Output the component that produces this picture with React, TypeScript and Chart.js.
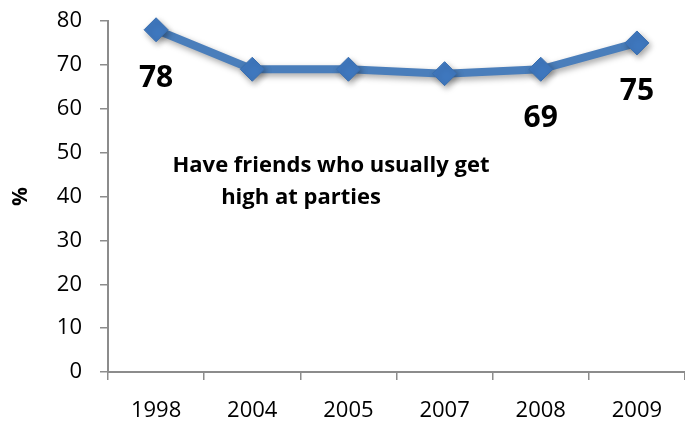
import React, { useEffect, useRef } from "react";
import { Chart, registerables } from "chart.js";

Chart.register(...registerables);

const categories = ["1998", "2004", "2005", "2007", "2008", "2009"];
const values = [78, 69, 69, 68, 69, 75];
const labeledIndices = [0, 4, 5];
const yTicks = [0, 10, 20, 30, 40, 50, 60, 70, 80];
const annotationLines = ["Have friends who usually get", "high at parties"];
const yTitle = "%";

const FONT = "'Open Sans', Lato, sans-serif";
const LINE_COLOR = "#4A7EBB";
const AXIS_COLOR = "#8C8C8C";

const shadowPlugin = {
  id: "shadowPlugin",
  beforeDatasetDraw(chart: any) {
    const ctx = chart.ctx;
    ctx.save();
    ctx.shadowColor = "rgba(0,0,0,0.35)";
    ctx.shadowBlur = 6;
    ctx.shadowOffsetX = 2;
    ctx.shadowOffsetY = 3;
  },
  afterDatasetDraw(chart: any) {
    chart.ctx.restore();
  },
};

const labelsPlugin = {
  id: "labelsPlugin",
  afterDatasetsDraw(chart: any) {
    const ctx = chart.ctx;
    const meta = chart.getDatasetMeta(0);
    ctx.save();
    ctx.fillStyle = "#000";
    ctx.font = `bold 30px ${FONT}`;
    ctx.textAlign = "center";
    ctx.textBaseline = "middle";
    labeledIndices.forEach((i) => {
      const pt = meta.data[i];
      ctx.fillText(String(values[i]), pt.x, pt.y + 49);
    });
    const area = chart.chartArea;
    const ys = chart.scales.y;
    ctx.font = `bold 22px ${FONT}`;
    ctx.textAlign = "center";
    ctx.fillText(annotationLines[0], area.left + 223, ys.getPixelForValue(46.9));
    ctx.fillText(annotationLines[1], area.left + 193, ys.getPixelForValue(39.8));
    ctx.restore();
  },
};

export default function App() {
  const canvasRef = useRef<HTMLCanvasElement | null>(null);

  useEffect(() => {
    document.body.style.margin = "0";
    const canvas = canvasRef.current!;
    const chart = new Chart(canvas, {
      type: "line",
      data: {
        labels: categories,
        datasets: [
          {
            data: values,
            borderColor: LINE_COLOR,
            borderWidth: 8,
            backgroundColor: "#3F78BF",
            pointBackgroundColor: "#3F78BF",
            pointBorderColor: "#3A6FB0",
            pointBorderWidth: 1,
            pointStyle: "rectRot",
            pointRadius: 12,
            pointHoverRadius: 12,
            tension: 0,
            fill: false,
            clip: false,
          },
        ],
      },
      options: {
        animation: false,
        responsive: false,
        maintainAspectRatio: false,
        layout: { autoPadding: false, padding: { top: 21, right: 0, left: 0, bottom: 0 } },
        plugins: {
          legend: { display: false },
          tooltip: { enabled: false },
          title: { display: false },
        },
        scales: {
          x: {
            type: "category",
            offset: true,
            grid: {
              display: true,
              offset: true,
              drawOnChartArea: false,
              drawTicks: true,
              tickLength: 8,
              color: AXIS_COLOR,
              lineWidth: 1.5,
            },
            border: { display: true, color: AXIS_COLOR, width: 2 },
            ticks: {
              color: "#000",
              font: { family: FONT, size: 22 },
              padding: 18,
              maxRotation: 0,
              autoSkip: false,
            },
            afterFit(scale: any) {
              scale.height = 52;
              scale.paddingLeft = 0;
              scale.paddingRight = 0;
            },
          },
          y: {
            min: 0,
            max: 80,
            afterBuildTicks(scale: any) {
              scale.ticks = yTicks.map((v) => ({ value: v }));
            },
            grid: {
              display: true,
              drawOnChartArea: false,
              drawTicks: true,
              tickLength: 8,
              color: AXIS_COLOR,
              lineWidth: 1.5,
            },
            border: { display: true, color: AXIS_COLOR, width: 2 },
            ticks: {
              color: "#000",
              font: { family: FONT, size: 22 },
              padding: 18,
            },
            title: {
              display: true,
              text: yTitle,
              color: "#000",
              font: { family: FONT, size: 21, weight: "bold" },
              padding: { top: 8, bottom: 0 },
            },
            afterFit(scale: any) {
              scale.width = 108;
              scale.paddingTop = 0;
              scale.paddingBottom = 0;
            },
          },
        },
      },
      plugins: [shadowPlugin, labelsPlugin],
    } as any);
    return () => chart.destroy();
  }, []);

  return (
    <div style={{ width: 685, height: 424 }}>
      <canvas ref={canvasRef} width={685} height={424} style={{ display: "block" }} />
    </div>
  );
}
